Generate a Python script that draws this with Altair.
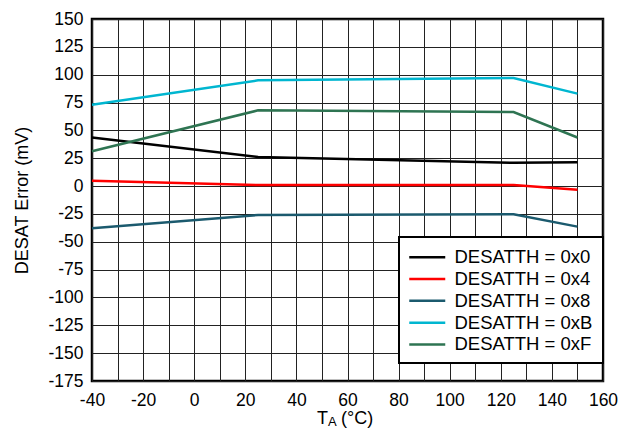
import altair as alt
import pandas as pd

temps = [-40, 25, 125, 150]
series_names = ["DESATTH = 0x0", "DESATTH = 0x4", "DESATTH = 0x8", "DESATTH = 0xB", "DESATTH = 0xF"]
s_0x0 = [43.6, 26.2, 20.9, 21.5]
s_0x4 = [4.7, 0.9, 0.9, -3.3]
s_0x8 = [-37.9, -26.0, -25.3, -36.4]
s_0xB = [73.1, 94.9, 97.0, 83.0]
s_0xF = [31.3, 68.0, 66.5, 43.6]
colors = ["#000000", "#FF0000", "#1B5A6E", "#00B6D0", "#2E7452"]

x_ticks = list(range(-40, 161, 10))
y_ticks = list(range(-175, 151, 25))

rows = []
for name, vals in zip(series_names, [s_0x0, s_0x4, s_0x8, s_0xB, s_0xF]):
    for t, v in zip(temps, vals):
        rows.append({"T": t, "err": v, "series": name})
df = pd.DataFrame(rows)

FONT = "Liberation Sans"

x_enc = alt.X("T:Q", scale=alt.Scale(domain=[-40, 160], nice=False, zero=False),
              axis=alt.Axis(values=x_ticks, title=None, grid=True, ticks=False, domain=False,
                            labelExpr="datum.value % 20 == 0 ? toString(datum.value) : ''",
                            labelFontSize=17.5, labelPadding=10, labelFlush=False,
                            labelOverlap=False))
y_enc = alt.Y("err:Q", scale=alt.Scale(domain=[-175, 150], nice=False, zero=False),
              axis=alt.Axis(values=y_ticks, title="DESAT Error (mV)", grid=True, ticks=False,
                            domain=False, labelFontSize=17.5, labelPadding=9,
                            labelExpr="toString(datum.value)",
                            titleFontSize=18, titleFontWeight="normal", titleAngle=270,
                            titleX=-65, titleY=181, titleAlign="center",
                            titleBaseline="alphabetic"))

box = alt.Chart(pd.DataFrame({"k": [0]})).mark_rect(
    fill="white", stroke="black", strokeWidth=2
).encode(x=alt.value(307), x2=alt.value(511), y=alt.value(218), y2=alt.value(344))

lines = alt.Chart(df).mark_line(strokeWidth=2.5).encode(
    x=x_enc,
    y=y_enc,
    color=alt.Color("series:N", scale=alt.Scale(domain=series_names, range=colors),
                    legend=alt.Legend(title=None, orient="none", legendX=302, legendY=218,
                                      symbolType="M-1,0H6.2", symbolSize=100,
                                      symbolStrokeWidth=2.5, labelFontSize=18.5,
                                      labelOffset=31, padding=11, rowPadding=2.8)),
)

t_main = alt.Chart(pd.DataFrame({"k": [0]})).mark_text(
    text="T", font=FONT, fontSize=18, align="left", baseline="alphabetic", color="black"
).encode(x=alt.value(225), y=alt.value(405))
t_sub = alt.Chart(pd.DataFrame({"k": [0]})).mark_text(
    text="A", font=FONT, fontSize=13, align="left", baseline="alphabetic", color="black"
).encode(x=alt.value(236), y=alt.value(406.5))
t_unit = alt.Chart(pd.DataFrame({"k": [0]})).mark_text(
    text="(°C)", font=FONT, fontSize=18, align="left", baseline="alphabetic", color="black"
).encode(x=alt.value(249), y=alt.value(405))

chart = alt.layer(lines, box, t_main, t_sub, t_unit).properties(
    width=511, height=362,
    autosize=alt.AutoSizeParams(type="none"),
    padding={"left": 84, "top": 11, "right": 18, "bottom": 48},
).configure(
    font=FONT,
).configure_view(
    stroke="black", strokeWidth=2.5,
).configure_axis(
    gridColor="#222222", gridWidth=1, gridOpacity=1,
    labelColor="black", titleColor="black", labelFont=FONT, titleFont=FONT,
).configure_legend(
    labelFont=FONT, labelColor="black",
)

chart.save("out.html", embed_options={"renderer": "svg", "actions": False})
